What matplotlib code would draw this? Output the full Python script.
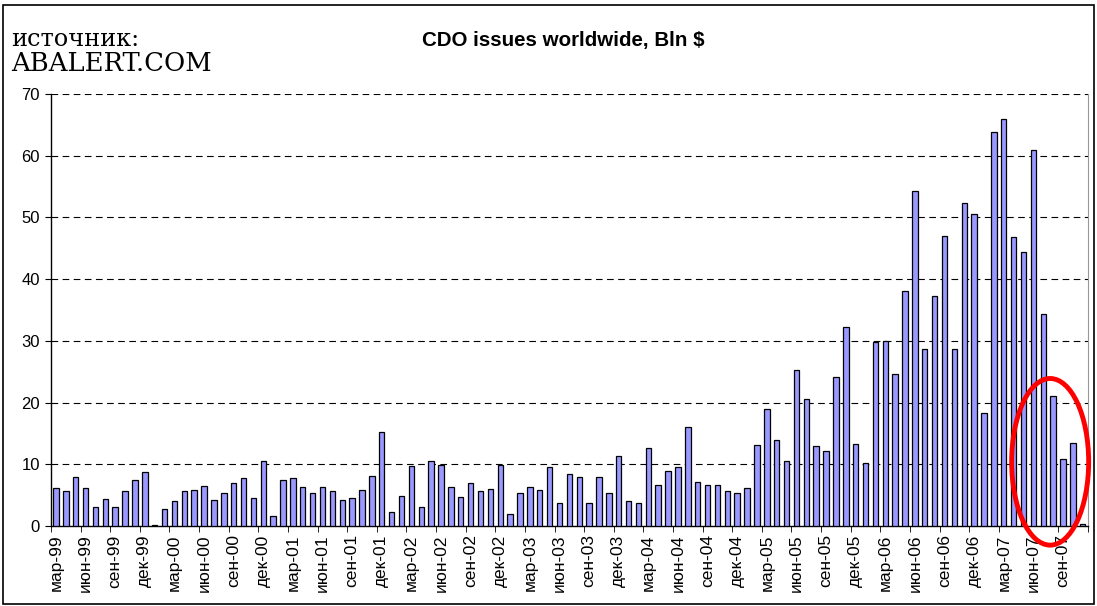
import matplotlib.pyplot as plt
import numpy as np
from matplotlib.patches import Ellipse, Rectangle

plt.rcParams["font.family"] = ["Liberation Sans", "DejaVu Sans"]

MONTHS_RU = ["янв", "фев", "мар", "апр", "май", "июн",
             "июл", "авг", "сен", "окт", "ноя", "дек"]

# monthly CDO issuance, Mar 1999 .. Nov 2007, bln $
issues = [
    6.1, 5.6, 7.9, 6.2, 3.0, 4.3, 3.0, 5.6, 7.4, 8.7,           # 1999
    0.2, 2.8, 4.0, 5.6, 5.9, 6.5, 4.2, 5.4, 7.0, 7.7, 4.6, 10.5,  # 2000
    1.7, 7.5, 7.8, 6.3, 5.3, 6.4, 5.6, 4.2, 4.6, 5.9, 8.1, 15.3,  # 2001
    2.3, 4.9, 9.7, 3.0, 10.5, 9.9, 6.4, 4.7, 7.0, 5.6, 6.0, 9.9,  # 2002
    2.0, 5.4, 6.3, 5.8, 9.6, 3.7, 8.4, 7.9, 3.7, 7.9, 5.4, 11.3,  # 2003
    4.1, 3.7, 12.7, 6.6, 8.9, 9.6, 16.0, 7.2, 6.6, 6.7, 5.6, 5.4,  # 2004
    6.1, 13.1, 18.9, 14.0, 10.6, 25.3, 20.6, 12.9, 12.1, 24.2, 32.3, 13.3,  # 2005
    10.2, 29.8, 30.0, 24.6, 38.0, 54.2, 28.6, 37.3, 47.0, 28.6, 52.3, 50.6,  # 2006
    18.3, 63.8, 66.0, 46.8, 44.4, 60.9, 34.3, 21.1, 10.9, 13.5, 0.3,  # 2007
]
start_year, start_month = 1999, 3

labels = []
for i in range(len(issues)):
    m = (start_month - 1 + i) % 12
    y = start_year + (start_month - 1 + i) // 12
    labels.append(f"{MONTHS_RU[m]}-{y % 100:02d}")

y_ticks = [0, 10, 20, 30, 40, 50, 60, 70]

fig = plt.figure(figsize=(10.97, 6.06), dpi=100)
ax = fig.add_axes([0.0465, 0.132, 0.945, 0.713])

x = np.arange(len(issues))
ax.bar(x, issues, width=0.55, color="#9999FF", edgecolor="black",
       linewidth=0.9, zorder=3)

ax.set_xlim(-0.5, len(issues) - 0.5)
ax.set_ylim(0, 70)
ax.set_yticks(y_ticks)
ax.tick_params(axis="y", labelsize=12, length=4, direction="out", pad=4)
for yv in y_ticks[1:]:
    ax.axhline(yv, color="black", lw=0.8, ls=(0, (6, 4)), zorder=1)

# labels on every third month, ticks on category boundaries
ax.set_xticks(x[::3])
ax.set_xticklabels(labels[::3], rotation=90, fontsize=12.5)
ax.tick_params(axis="x", length=0, pad=6)
ax.set_xticks(np.arange(-0.5, len(issues), 3), minor=True)
ax.tick_params(axis="x", which="minor", length=4, direction="out")

ax.spines["top"].set_visible(False)
ax.spines["right"].set_color("#999999")
ax.spines["left"].set_linewidth(1.0)
ax.spines["bottom"].set_linewidth(1.0)

# highlight the collapse at the end of 2007
ax.add_patch(Ellipse((100.7, 10.4), 7.8, 27.0, fill=False,
                     edgecolor="red", lw=3.5, zorder=5, clip_on=False))

fig.text(0.513, 0.933, "CDO issues worldwide, Bln $", ha="center",
         va="center", fontsize=14.8, fontweight="bold")
fig.text(0.010, 0.935, "источник:", ha="left", va="center",
         fontsize=17.3, family=["DejaVu Serif"])
fig.text(0.010, 0.896, "ABALERT.COM", ha="left", va="center",
         fontsize=18.6, family=["DejaVu Serif"])

fig.patches.append(Rectangle((0.003, 0.004), 0.994, 0.987, fill=False,
                             edgecolor="black", lw=1.2,
                             transform=fig.transFigure, figure=fig))

fig.savefig("out.png", dpi=100)
